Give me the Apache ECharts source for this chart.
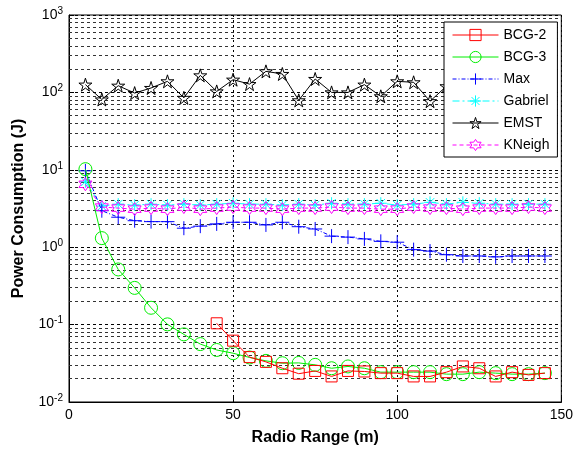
<!DOCTYPE html>
<html>
<head>
<meta charset="utf-8">
<script src="https://cdn.jsdelivr.net/npm/echarts@6/dist/echarts.min.js"></script>
<style>html,body{margin:0;padding:0;background:#fff}#c{width:576px;height:451px}</style>
</head>
<body>
<div id="c"></div>
<script>
// ---- data ----
const xRange = [5,10,15,20,25,30,35,40,45,50,55,60,65,70,75,80,85,90,95,100,105,110,115,120,125,130,135,140,145];
const bcg2X = [45,50,55,60,65,70,75,80,85,90,95,100,105,110,115,120,125,130,135,140,145];
const bcg2 = [0.104,0.062,0.038,0.033,0.0273,0.0232,0.0252,0.0214,0.0252,0.0248,0.0236,0.0236,0.0214,0.0214,0.0243,0.0288,0.0273,0.0214,0.0243,0.0224,0.0236];
const bcg3 = [10.2,1.31,0.516,0.298,0.165,0.1007,0.0748,0.056,0.047,0.0427,0.0376,0.034,0.0317,0.032,0.0302,0.0273,0.0288,0.0273,0.0243,0.0243,0.0243,0.0243,0.0229,0.0229,0.0243,0.0236,0.0229,0.0229,0.0236];
const maxS = [9.7,2.96,2.44,2.20,2.14,2.14,1.76,1.87,2.0,2.10,2.10,1.94,2.10,1.84,1.72,1.39,1.35,1.28,1.19,1.16,0.93,0.89,0.80,0.77,0.77,0.75,0.77,0.77,0.77];
const gabriel = [7.0,3.4,3.6,3.5,3.6,3.5,3.6,3.5,3.6,3.7,3.6,3.6,3.5,3.6,3.5,3.7,3.6,3.6,3.7,3.5,3.6,3.8,3.6,3.8,3.7,3.6,3.6,3.6,3.6];
const emst = [126,81,122,98,114,139,85,166,103,146,128,187,173,79,149,100,100,126,89,139,135,77,120,95,140,110,90,130,105];
const kneigh = [6.5,3.3,3.2,3.1,3.2,3.1,3.3,3.1,3.2,3.3,3.2,3.2,3.1,3.2,3.2,3.3,3.2,3.2,3.1,3.1,3.3,3.2,3.2,3.1,3.2,3.2,3.2,3.3,3.2];
const xTicks = [0,50,100,150];
const minorGrid = [0.02,0.03,0.04,0.05,0.06,0.07,0.08,0.09,0.2,0.3,0.4,0.5,0.6,0.7,0.8,0.9,2,3,4,5,6,7,8,9,20,30,40,50,60,70,80,90,200,300,400,500,600,700,800,900];

const zip = (xs, ys) => xs.map((x, i) => [x, ys[i]]);

const P_PLUS = 'path://M0,-1L0,1M-1,0L1,0';
const P_AST = 'path://M0,-1L0,1M-1,0L1,0M-0.707,-0.707L0.707,0.707M-0.707,0.707L0.707,-0.707';
const P_STAR5 = 'path://M0,-1L0.2245,-0.309L0.951,-0.309L0.363,0.118L0.588,0.809L0,0.382L-0.588,0.809L-0.363,0.118L-0.951,-0.309L-0.2245,-0.309Z';
const P_HEX = 'path://M0,-1L0.289,-0.5L0.866,-0.5L0.577,0L0.866,0.5L0.289,0.5L0,1L-0.289,0.5L-0.866,0.5L-0.577,0L-0.866,-0.5L-0.289,-0.5Z';

function mk(name, data, color, symbol, size, lineType, extra) {
  return Object.assign({
    name, type: 'line', data, symbol, symbolSize: size, color,
    showAllSymbol: true, animation: false,
    itemStyle: { color: 'rgba(0,0,0,0)', borderColor: color, borderWidth: 1 },
    lineStyle: { color, width: 1, type: lineType },
    emphasis: { disabled: true }
  }, extra || {});
}

const chart = echarts.init(document.getElementById('c'), null, { renderer: 'canvas' });
const font = 'Liberation Sans, Arial, sans-serif';
chart.setOption({
  animation: false,
  textStyle: { fontFamily: font },
  grid: { left: 69, top: 15, right: 13, bottom: 47, show: true, borderColor: '#000', borderWidth: 1, backgroundColor: '#fff' },
  legend: {
    orient: 'vertical', left: 444, top: 22, z: 20,
    backgroundColor: '#fff', borderColor: '#000', borderWidth: 1,
    padding: [6, 8, 5, 8], itemWidth: 46, itemHeight: 14, itemGap: 8,
    textStyle: { fontSize: 14, color: '#000', fontFamily: font },
    itemStyle: { color: 'rgba(0,0,0,0)', borderColor: 'inherit', borderWidth: 1 },
    lineStyle: { width: 1 },
    data: ['BCG-2', 'BCG-3', 'Max', 'Gabriel', 'EMST', 'KNeigh']
  },
  xAxis: {
    type: 'value', min: 0, max: 150, interval: 50,
    name: 'Radio Range (m)', nameLocation: 'middle', nameGap: 28,
    nameTextStyle: { fontSize: 16, fontWeight: 'bold', color: '#000', fontFamily: font },
    axisLine: { lineStyle: { color: '#000' } },
    axisTick: { inside: true, length: 5, lineStyle: { color: '#000' } },
    axisLabel: { fontSize: 14, color: '#000', margin: 6, formatter: v => xTicks.includes(v) ? String(v) : '' },
    splitLine: { show: true, lineStyle: { color: '#000', type: [2, 3], width: 1 } }
  },
  yAxis: {
    type: 'log', logBase: 10, min: 0.01, max: 1000,
    name: 'Power Consumption (J)', nameLocation: 'middle', nameGap: 42,
    nameTextStyle: { fontSize: 16, fontWeight: 'bold', color: '#000', fontFamily: font },
    axisLine: { lineStyle: { color: '#000' } },
    axisTick: { inside: true, length: 5, lineStyle: { color: '#000' } },
    axisLabel: {
      color: '#000', margin: 6,
      formatter: v => '{b|10}{e|' + Math.round(Math.log10(v)) + '}',
      rich: {
        b: { fontSize: 14, color: '#000', fontFamily: font },
        e: { fontSize: 10, color: '#000', fontFamily: font, verticalAlign: 'top', padding: [0, 0, 8, 0] }
      }
    },
    splitLine: { show: true, lineStyle: { color: '#000', type: [3, 3], width: 1 } }
  },
  series: [
    mk('BCG-2', zip(bcg2X, bcg2), '#ff0000', 'rect', 11, 'solid', {
      z: 6,
      markLine: {
        silent: true, symbol: 'none', animation: false, z: 1,
        label: { show: false },
        lineStyle: { color: '#333', type: [3, 3], width: 1 },
        data: minorGrid.map(v => ({ yAxis: v }))
      }
    }),
    mk('BCG-3', zip(xRange, bcg3), '#00ee00', 'circle', 13, 'solid', { z: 5 }),
    mk('Max', zip(xRange, maxS), '#0000ff', P_PLUS, 14, [4, 2, 1, 2], { z: 4 }),
    mk('Gabriel', zip(xRange, gabriel), '#00ffff', P_AST, 12, [7, 3, 2, 3], { z: 3 }),
    mk('EMST', zip(xRange, emst), '#000000', P_STAR5, 13, 'solid', { z: 3 }),
    mk('KNeigh', zip(xRange, kneigh), '#ff00ff', P_HEX, 13, [4, 3], { z: 4 })
  ]
});
</script>
</body>
</html>
